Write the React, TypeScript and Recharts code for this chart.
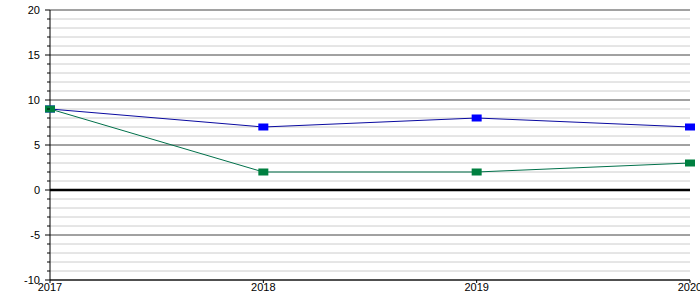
import React from 'react';
import { LineChart, Line, XAxis, YAxis, ReferenceLine } from 'recharts';

const years = ['2017', '2018', '2019', '2020'];
const blueSeries = [9, 7, 8, 7];
const greenSeries = [9, 2, 2, 3];
const yTicks = [-10,-9,-8,-7,-6,-5,-4,-3,-2,-1,0,1,2,3,4,5,6,7,8,9,10,11,12,13,14,15,16,17,18,19,20];

const data = years.map((y, i) => ({ year: y, blue: blueSeries[i], green: greenSeries[i] }));

const SquareDot = (color: string) => (props: any) => {
  const { cx, cy, index } = props;
  if (cx == null || cy == null) return null;
  return <rect key={index} x={cx - 5} y={cy - 3.5} width={10} height={7} fill={color} />;
};

const YTick = (props: any) => {
  const { x, y, payload } = props;
  const v = payload.value;
  const major = v % 5 === 0;
  const axisX = x + 9;
  return (
    <g>
      <line x1={axisX - (major ? 5 : 3)} x2={axisX} y1={y} y2={y} stroke="#000" strokeWidth={1} />
      {major && (
        <text x={x - 1} y={y} textAnchor="end" dominantBaseline="central" fontSize={11} fontFamily="Arial, 'Liberation Sans', sans-serif" fill="#000">
          {v}
        </text>
      )}
    </g>
  );
};

export default function App() {
  return (
    <div style={{ position: 'absolute', left: 0, top: 0, width: 700, height: 300, background: '#fff' }}>
      <LineChart width={700} height={300} data={data} margin={{ top: 10, right: 10, left: 0, bottom: 0 }}>
        {yTicks.map((t) => (
          <ReferenceLine
            key={t}
            y={t}
            stroke={t === 0 ? '#000' : t % 5 === 0 ? '#444' : '#ccc'}
            strokeWidth={t === 0 ? 2.5 : 1}
          />
        ))}
        <XAxis
          dataKey="year"
          height={20}
          tickSize={3}
          tickMargin={0}
          interval={0}
          axisLine={{ stroke: '#000' }}
          tickLine={{ stroke: '#000' }}
          tick={{ fontSize: 11, fill: '#000', fontFamily: "Arial, 'Liberation Sans', sans-serif" }}
        />
        <YAxis
          type="number"
          domain={[-10, 20]}
          ticks={yTicks}
          interval={0}
          width={50}
          tickSize={5}
          tickMargin={4}
          tickLine={false}
          axisLine={{ stroke: '#000' }}
          tick={<YTick />}
        />
        <Line type="linear" dataKey="blue" stroke="#0a0aa0" strokeWidth={1} dot={SquareDot('#0000ff')} isAnimationActive={false} />
        <Line type="linear" dataKey="green" stroke="#00704a" strokeWidth={1} dot={SquareDot('#008040')} isAnimationActive={false} />
      </LineChart>
    </div>
  );
}
